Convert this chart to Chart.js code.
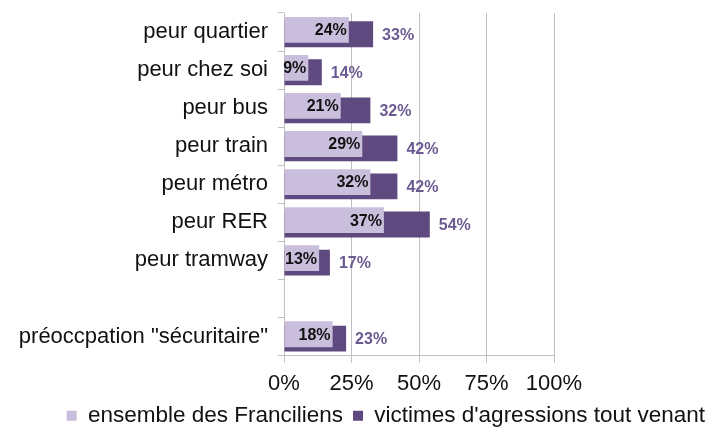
<!DOCTYPE html>
<html>
<head>
<meta charset="utf-8">
<script src="https://cdn.jsdelivr.net/npm/chart.js@4"></script>
<style>
  html, body { margin: 0; padding: 0; background: #ffffff; }
  #wrap { width: 715px; height: 428px; position: relative; }
</style>
</head>
<body>
<div id="wrap"><canvas id="c"></canvas></div>
<script>
const categories = ['peur quartier', 'peur chez soi', 'peur bus', 'peur train', 'peur métro', 'peur RER', 'peur tramway', '', 'préoccpation "sécuritaire"'];
const ensemble = [24, 9, 21, 29, 32, 37, 13, null, 18];
const victimes = [33, 14, 32, 42, 42, 54, 17, null, 23];
const xTicks = [0, 25, 50, 75, 100];
const seriesNames = ['ensemble des Franciliens', "victimes d'agressions tout venant"];

const FONT = '"Liberation Sans", Arial, sans-serif';
const LIGHT = '#c9bfdc';
const DARK = '#5e4a7e';
const DARK_LABEL = '#6b5a92';
const GRID = '#bfbfbf';

const valueLabels = {
  id: 'valueLabels',
  afterDatasetsDraw(chart) {
    const ctx = chart.ctx;
    ctx.save();
    ctx.font = 'bold 16px ' + FONT;
    ctx.textBaseline = 'middle';
    const m0 = chart.getDatasetMeta(0);
    m0.data.forEach((el, i) => {
      const v = ensemble[i];
      if (v === null || v === undefined) return;
      ctx.fillStyle = '#111111';
      ctx.textAlign = 'right';
      ctx.fillText(v + '%', el.x - 2, el.y + 1);
    });
    const m1 = chart.getDatasetMeta(1);
    m1.data.forEach((el, i) => {
      const v = victimes[i];
      if (v === null || v === undefined) return;
      ctx.fillStyle = DARK_LABEL;
      ctx.textAlign = 'left';
      ctx.fillText(v + '%', el.x + 9, el.y + 1);
    });
    ctx.restore();
  }
};

new Chart(document.getElementById('c'), {
  type: 'bar',
  data: {
    labels: categories,
    datasets: [
      { label: seriesNames[0], data: ensemble, backgroundColor: LIGHT, borderWidth: 0,
        categoryPercentage: 0.23, barPercentage: 5.9 },
      { label: seriesNames[1], data: victimes, backgroundColor: DARK, borderWidth: 0,
        categoryPercentage: 0.23, barPercentage: 5.9 }
    ]
  },
  options: {
    indexAxis: 'y',
    responsive: true,
    maintainAspectRatio: false,
    animation: false,
    layout: { padding: { top: 13, left: 0, right: 0, bottom: -9 } },
    plugins: {
      tooltip: { enabled: false },
      legend: {
        position: 'bottom',
        align: 'end',
        labels: {
          boxWidth: 10, boxHeight: 10, padding: 10,
          color: '#111111',
          font: { family: FONT, size: 22.5 }
        }
      }
    },
    scales: {
      x: {
        type: 'linear',
        min: 0, max: 100,
        afterBuildTicks(s) { s.ticks = xTicks.map(v => ({ value: v })); },
        afterFit(s) { s.height = 39; },
        grid: { color: GRID, lineWidth: 1, tickLength: 7, drawTicks: true },
        border: { color: GRID, width: 1 },
        ticks: {
          color: '#111111', padding: 8,
          font: { family: FONT, size: 22 },
          callback: v => v + '%'
        }
      },
      y: {
        type: 'category',
        position: 'left',
        afterFit(s) { s.width = 284; s.paddingTop = 0; s.paddingBottom = 0; },
        grid: { offset: true, drawOnChartArea: false, drawTicks: true, tickLength: 6, color: GRID },
        border: { color: GRID, width: 1 },
        ticks: { color: '#111111', padding: 10, autoSkip: false, font: { family: FONT, size: 22 } }
      },
      yR: {
        type: 'linear',
        position: 'right',
        display: true,
        afterFit(s) { s.width = 161; s.paddingTop = 0; s.paddingBottom = 0; },
        grid: { display: false, drawTicks: false },
        border: { display: false },
        ticks: { display: false }
      }
    }
  },
  plugins: [valueLabels]
});
</script>
</body>
</html>
